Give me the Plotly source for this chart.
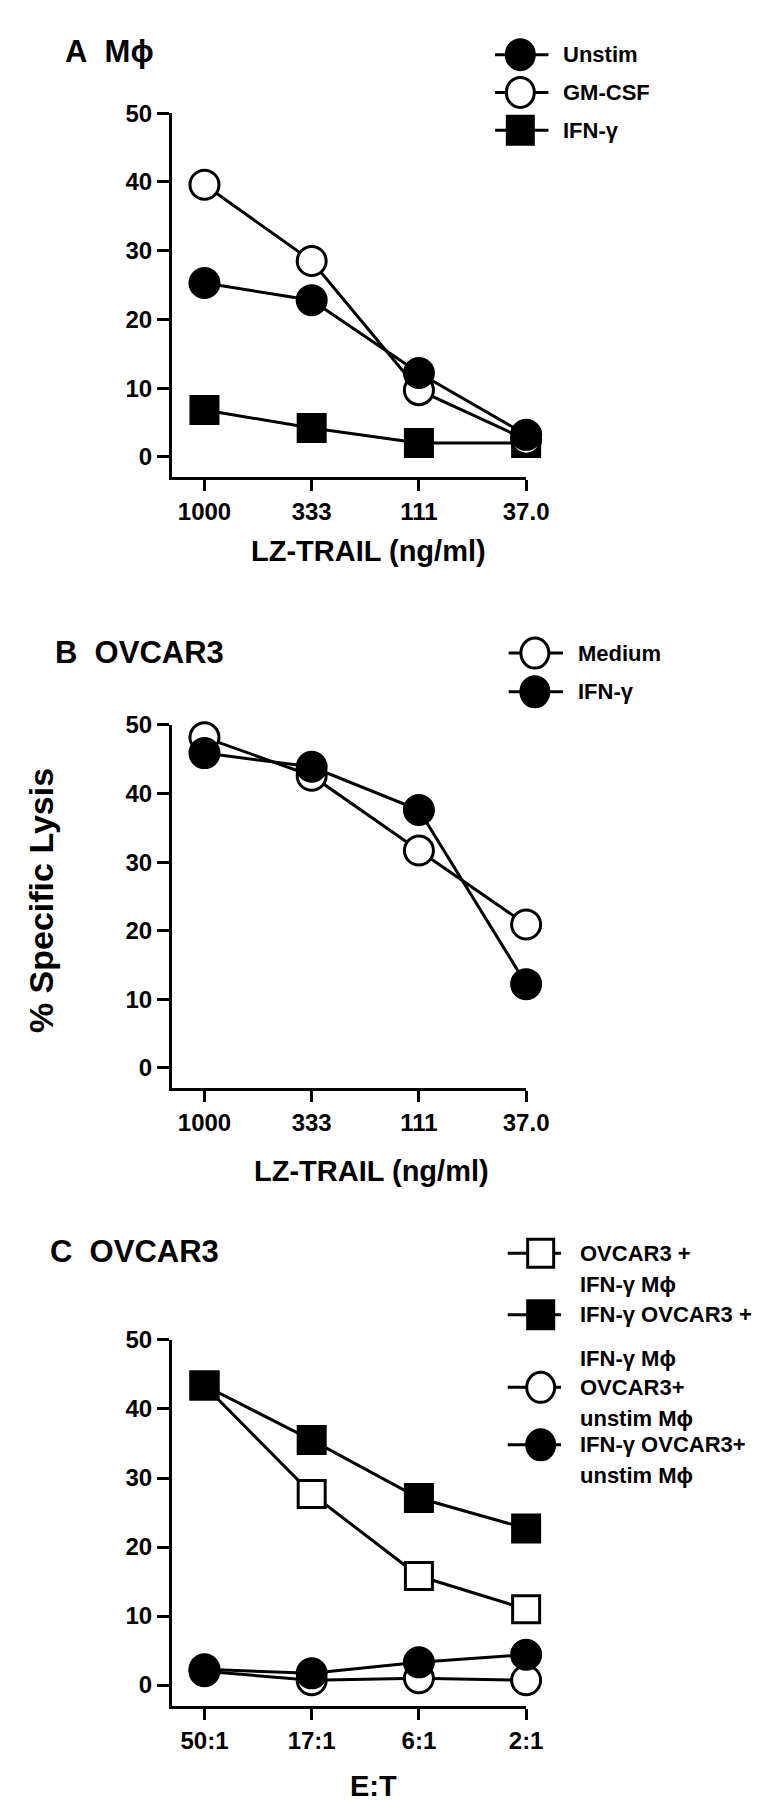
import plotly.graph_objects as go

# ---------------- data ----------------
conc_labels = ["1000", "333", "111", "37.0"]
et_labels = ["50:1", "17:1", "6:1", "2:1"]
y_ticks = [0, 10, 20, 30, 40, 50]

# Panel A (Mphi)
a_unstim = [25.3, 22.8, 12.2, 3.2]
a_gmcsf = [39.6, 28.5, 9.7, 2.5]
a_ifng = [6.8, 4.2, 2.0, 2.0]

# Panel B (OVCAR3)
b_medium = [48.2, 42.6, 31.7, 20.9]
b_ifng = [45.9, 43.9, 37.6, 12.2]

# Panel C (OVCAR3, E:T)
c_ovcar_ifnmac = [43.4, 27.7, 15.8, 11.0]
c_ifnovcar_ifnmac = [43.4, 35.5, 27.1, 22.7]
c_ovcar_unstim = [2.0, 0.7, 1.0, 0.7]
c_ifnovcar_unstim = [2.3, 1.7, 3.3, 4.4]

W, H = 774, 1800
FONT = "Liberation Sans, Arial, Helvetica, sans-serif"


def px(p):
    return p / W


def py(p):
    return 1 - p / H


fig = go.Figure()

# ---------------- series ----------------
panels = [
    ("x", "y", conc_labels, [
        (a_ifng, "square", "black"),
        (a_gmcsf, "circle", "white"),
        (a_unstim, "circle", "black"),
    ]),
    ("x2", "y2", conc_labels, [
        (b_medium, "circle", "white"),
        (b_ifng, "circle", "black"),
    ]),
    ("x3", "y3", et_labels, [
        (c_ovcar_ifnmac, "square", "white"),
        (c_ifnovcar_ifnmac, "square", "black"),
        (c_ovcar_unstim, "circle", "white"),
        (c_ifnovcar_unstim, "circle", "black"),
    ]),
]

for xa, ya, cats, series in panels:
    # lines first, so every marker sits above every line
    for vals, sym, fill in series:
        fig.add_trace(go.Scatter(
            x=cats, y=vals, xaxis=xa, yaxis=ya, mode="lines",
            line=dict(color="black", width=3), cliponaxis=False,
            showlegend=False, hoverinfo="skip"))
    for vals, sym, fill in series:
        size = 29 if sym == "circle" else 27
        fig.add_trace(go.Scatter(
            x=cats, y=vals, xaxis=xa, yaxis=ya, mode="markers",
            marker=dict(symbol=sym, size=size, color=fill,
                        line=dict(color="black", width=3)),
            cliponaxis=False, showlegend=False))

# ---------------- axes ----------------
xdom = [px(169), px(534)]
ydoms = {
    "": [py(459), py(92)],
    "2": [py(1074.7), py(708.5)],
    "3": [py(1697), py(1328.3)],
}
tickfont = dict(family=FONT, size=24, color="black", weight="bold")
layout_axes = {}
for suf, dom in ydoms.items():
    layout_axes["xaxis" + suf] = dict(
        domain=xdom, type="category", range=[-0.303, 3.0],
        showline=True, linewidth=3, linecolor="black",
        ticks="outside", ticklen=11, tickwidth=3, tickcolor="black",
        showgrid=False, zeroline=False, tickfont=tickfont,
        anchor="y" + suf, fixedrange=True)
    layout_axes["yaxis" + suf] = dict(
        domain=dom, range=[-3.0, 50], tickvals=y_ticks,
        showline=True, linewidth=3, linecolor="black",
        ticks="outside", ticklen=12, tickwidth=3, tickcolor="black",
        showgrid=False, zeroline=False, tickfont=tickfont,
        anchor="x" + suf, fixedrange=True)

# ---------------- text ----------------
ann = []


def text(t, x, y, size, xanchor="left", angle=0):
    ann.append(dict(text=t, x=px(x), y=py(y), xref="paper", yref="paper",
                    xanchor=xanchor, yanchor="middle", showarrow=False,
                    textangle=angle,
                    font=dict(family=FONT, size=size, color="black",
                              weight="bold")))


NB = "\u00a0"
text("A" + NB * 2 + "M\u03d5", 57, 30, 31)
text("B" + NB * 2 + "OVCAR3", 46, 635, 31)
text("C" + NB * 2 + "OVCAR3", 41, 1239, 31)

text("LZ-TRAIL (ng/ml)", 372, 533, 29, xanchor="center")
text("LZ-TRAIL (ng/ml)", 375, 1158, 29, xanchor="center")
text("E:T", 377, 1778, 29, xanchor="center")
text("% Specific Lysis", 34, 885, 34, xanchor="center", angle=-90)

# ---------------- legends ----------------
shapes = []


def legend_item(cx, cy, x0, x1, sym, fill, tx, label_lines, line_gap=31):
    shapes.append(dict(type="line", xref="paper", yref="paper",
                       x0=px(x0), x1=px(x1), y0=py(cy), y1=py(cy),
                       line=dict(color="black", width=3)))
    r = 14 if sym == "circle" else 13
    shapes.append(dict(type="circle" if sym == "circle" else "rect",
                       xref="paper", yref="paper",
                       xsizemode="pixel", ysizemode="pixel",
                       xanchor=px(cx), yanchor=py(cy),
                       x0=-r, x1=r, y0=-r - 1, y1=r + 1,
                       fillcolor=fill, line=dict(color="black", width=3)))
    for i, lab in enumerate(label_lines):
        text(lab, tx, cy + i * line_gap, 22)


legend_item(528, 33, 502, 557, "circle", "black", 570, ["Unstim"])
legend_item(528, 71, 502, 557, "circle", "white", 570, ["GM-CSF"])
legend_item(528, 109, 502, 557, "square", "black", 570, ["IFN-\u03b3"])

legend_item(543, 636, 516, 572, "circle", "white", 585, ["Medium"])
legend_item(543, 675, 516, 572, "circle", "black", 585, ["IFN-\u03b3"])

legend_item(549, 1241, 515, 570, "square", "white", 587,
            ["OVCAR3 +", "IFN-\u03b3 M\u03d5"])
legend_item(549, 1303, 515, 570, "square", "black", 587,
            ["IFN-\u03b3 OVCAR3 +", "IFN-\u03b3 M\u03d5"], line_gap=44)
legend_item(549, 1376, 515, 570, "circle", "white", 587,
            ["OVCAR3+", "unstim M\u03d5"])
legend_item(549, 1434, 515, 570, "circle", "black", 587,
            ["IFN-\u03b3 OVCAR3+", "unstim M\u03d5"])

fig.update_layout(
    width=W, height=H, margin=dict(l=0, r=0, t=0, b=0),
    paper_bgcolor="white", plot_bgcolor="white",
    showlegend=False, annotations=ann, shapes=shapes,
    font=dict(family=FONT, color="black"),
    **layout_axes)

fig.write_html("out.html")
